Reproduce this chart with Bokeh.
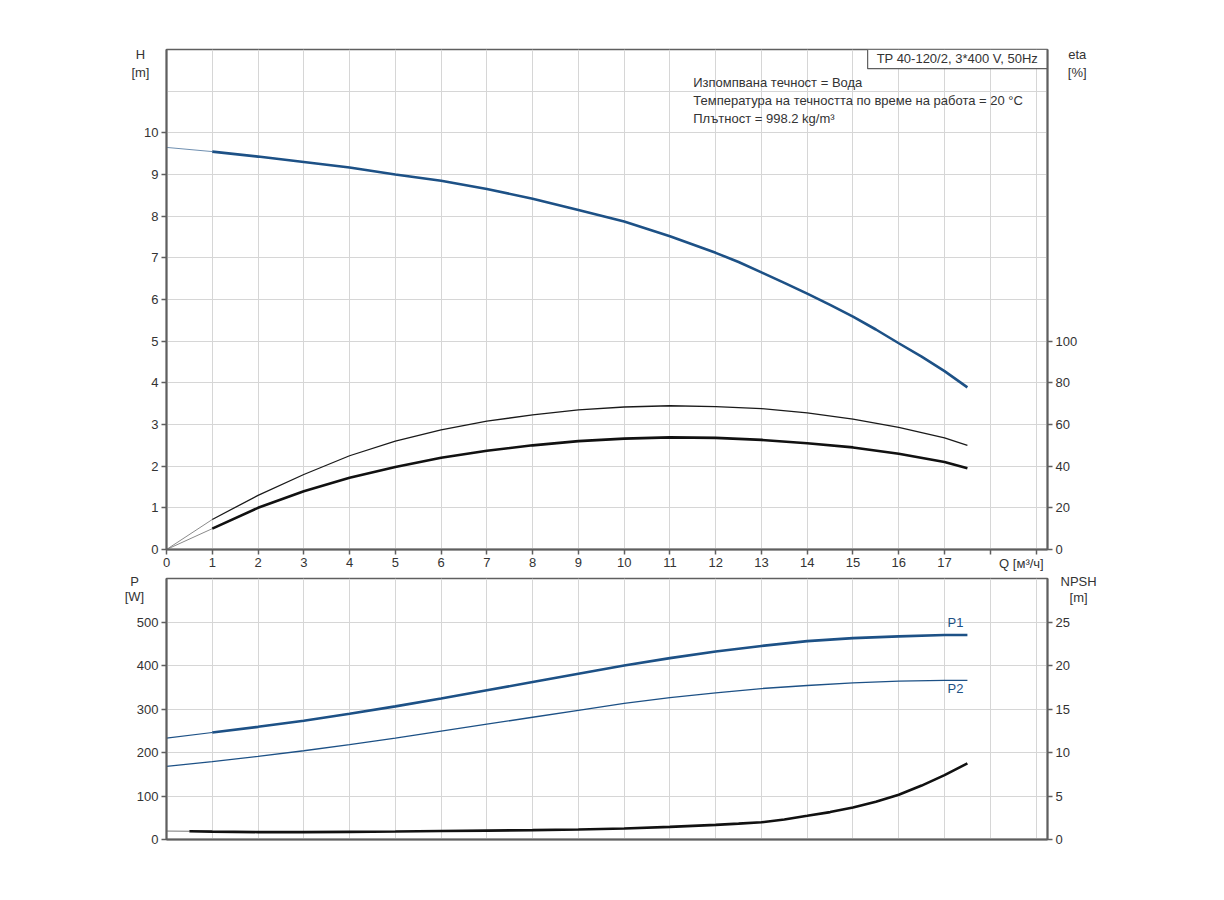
from bokeh.plotting import figure
from bokeh.models import Range1d, LinearAxis, FixedTicker, Label
from bokeh.layouts import column
from bokeh.embed import file_html
from bokeh.resources import INLINE

# ---------------- data ----------------
Q = [0, 1, 2, 3, 4, 5, 6, 7, 8, 9, 10, 11, 12, 13, 14, 15, 16, 17, 17.5]
Q_H = [0, 1, 2, 3, 4, 5, 6, 7, 8, 9, 10, 11, 12, 12.5, 13, 13.5, 14, 14.5, 15, 15.5, 16, 16.5, 17, 17.5]
H = [9.65, 9.55, 9.43, 9.3, 9.17, 9.0, 8.85, 8.65, 8.42, 8.15, 7.87, 7.52, 7.12, 6.9, 6.65, 6.4, 6.14, 5.87, 5.59, 5.28, 4.95, 4.63, 4.28, 3.89]
ETA_PUMP = [0, 14.4, 26, 36, 45, 52, 57.4, 61.6, 64.6, 67, 68.4, 69, 68.6, 67.6, 65.6, 62.6, 58.6, 53.6, 50]
ETA_TOTAL = [0, 10, 20, 28, 34.4, 39.6, 44, 47.4, 50, 52, 53.2, 53.8, 53.6, 52.6, 51, 49, 46, 42, 39]
P1 = [233, 246, 259, 273, 289, 306, 324, 343, 362, 381, 400, 417, 432, 445, 456, 463, 467, 470, 470]
P2 = [168, 179, 191, 204, 218, 233, 249, 265, 281, 297, 313, 326, 337, 347, 354, 360, 364, 366, 366]
Q_NPSH = [0, 0.5, 1, 2, 3, 4, 5, 6, 7, 8, 9, 10, 11, 12, 12.5, 13, 13.5, 14, 14.5, 15, 15.5, 16, 16.5, 17, 17.5]
NPSH = [0.97, 0.95, 0.9, 0.85, 0.85, 0.88, 0.92, 0.97, 1.02, 1.08, 1.15, 1.27, 1.45, 1.68, 1.82, 1.98, 2.3, 2.72, 3.15, 3.67, 4.35, 5.15, 6.2, 7.4, 8.74]

X_TICKS = list(range(0, 20))
H_TICKS = list(range(0, 11))
H_GRID = list(range(0, 13))
ETA_TICKS = [0, 20, 40, 60, 80, 100]
P_TICKS = [0, 100, 200, 300, 400, 500]
P_GRID = [0, 100, 200, 300, 400, 500, 600]
NPSH_TICKS = [0, 5, 10, 15, 20, 25]

TITLE_BOX = "TP 40-120/2, 3*400 V, 50Hz"
INFO = ["Изпомпвана течност = Вода",
        "Температура на течността по време на работа = 20 °C",
        "Плътност = 998.2 kg/m³"]

FONT = "Liberation Sans"
BLUE = "#1d5186"
AXIS_C = "#5f5f5f"
GRID_C = "#d6d6d6"
TXT_C = "#333333"
FS = "13px"

XMAX = 19.25


def style_axis(ax, ticks, labels_visible=True):
    ax.ticker = FixedTicker(ticks=ticks)
    ax.axis_line_color = AXIS_C
    ax.axis_line_width = 2
    ax.major_tick_line_color = AXIS_C
    ax.major_tick_line_width = 1.5
    ax.major_tick_out = 5
    ax.major_tick_in = 0
    ax.minor_tick_line_color = None
    ax.major_label_text_font = FONT
    ax.major_label_text_font_size = FS
    ax.major_label_text_color = TXT_C
    ax.major_label_standoff = 3
    if not labels_visible:
        ax.major_label_text_alpha = 0
        ax.major_tick_out = 0


def base_fig(height, top, bottom, yr):
    p = figure(width=1200, height=height, output_backend="svg", toolbar_location=None,
               x_range=Range1d(0, XMAX), y_range=yr,
               min_border_left=166, min_border_right=153,
               min_border_top=top, min_border_bottom=bottom)
    p.outline_line_color = AXIS_C
    p.outline_line_width = 1.5
    p.xgrid.grid_line_color = GRID_C
    p.ygrid.grid_line_color = GRID_C
    p.xgrid.ticker = FixedTicker(ticks=X_TICKS)
    p.background_fill_color = "white"
    p.border_fill_color = "white"
    return p


def lbl(p, x, y, text, side="center", align="center", color=TXT_C, rng="default"):
    p.add_layout(Label(x=x, y=y, text=text, text_align=align, text_baseline="middle",
                       text_font=FONT, text_font_size=FS, text_color=color,
                       y_range_name=rng), side)


# ---------------- top chart ----------------
p1 = base_fig(573, 49, 24, Range1d(0, 12))
p1.extra_y_ranges = {"eta": Range1d(0, 240)}
p1.ygrid.ticker = FixedTicker(ticks=H_GRID)
style_axis(p1.xaxis[0], X_TICKS)
p1.xaxis[0].major_label_overrides = {18: "", 19: ""}
style_axis(p1.yaxis[0], H_TICKS)
eta_ax = LinearAxis(y_range_name="eta")
style_axis(eta_ax, ETA_TICKS)
p1.add_layout(eta_ax, "right")

# H curve
p1.line(Q_H[:2], H[:2], line_color="#6f8fb0", line_width=1)
p1.line(Q_H[1:], H[1:], line_color=BLUE, line_width=2.6)
# efficiency curves
p1.line(Q[:2], ETA_PUMP[:2], line_color="#8a8a8a", line_width=1, y_range_name="eta")
p1.line(Q[1:], ETA_PUMP[1:], line_color="#1a1a1a", line_width=1.3, y_range_name="eta")
p1.line(Q[:2], ETA_TOTAL[:2], line_color="#8a8a8a", line_width=1, y_range_name="eta")
p1.line(Q[1:], ETA_TOTAL[1:], line_color="#111111", line_width=2.6, y_range_name="eta")

# title box
p1.quad(left=[15.32], right=[XMAX], top=[12], bottom=[11.54], fill_color="white",
        line_color=AXIS_C, line_width=1.2)
lbl(p1, 17.28, 11.78, TITLE_BOX)
for i, t in enumerate(INFO):
    lbl(p1, 11.51, 11.21 - i * 0.43, t, align="left")

lbl(p1, -0.57, 11.87, "H", side="left")
lbl(p1, -0.57, 11.45, "[m]", side="left")
lbl(p1, 19.9, 11.87, "eta", side="right")
lbl(p1, 19.9, 11.45, "[%]", side="right")
lbl(p1, 18.68, -0.34, "Q [м³/ч]", side="right")

# ---------------- bottom chart ----------------
p2 = base_fig(286, 5, 20, Range1d(0, 600))
p2.extra_y_ranges = {"npsh": Range1d(0, 30)}
p2.ygrid.ticker = FixedTicker(ticks=P_GRID)
style_axis(p2.xaxis[0], X_TICKS, labels_visible=False)
style_axis(p2.yaxis[0], P_TICKS)
npsh_ax = LinearAxis(y_range_name="npsh")
style_axis(npsh_ax, NPSH_TICKS)
p2.add_layout(npsh_ax, "right")

p2.line(Q[:2], P1[:2], line_color=BLUE, line_width=1.2)
p2.line(Q[1:], P1[1:], line_color=BLUE, line_width=2.6)
p2.line(Q, P2, line_color=BLUE, line_width=1.3)
p2.line(Q_NPSH[:2], NPSH[:2], line_color="#777777", line_width=1, y_range_name="npsh")
p2.line(Q_NPSH[1:], NPSH[1:], line_color="#111111", line_width=2.6, y_range_name="npsh")

lbl(p2, 17.24, 498, "P1", color=BLUE)
lbl(p2, 17.24, 346, "P2", color=BLUE)
lbl(p2, -0.7, 592, "P", side="left")
lbl(p2, -0.7, 558, "[W]", side="left")
lbl(p2, 19.93, 594, "NPSH", side="right")
lbl(p2, 19.93, 556, "[m]", side="right")

layout = column(p1, p2)
open("out.html", "w").write(file_html(layout, INLINE))
